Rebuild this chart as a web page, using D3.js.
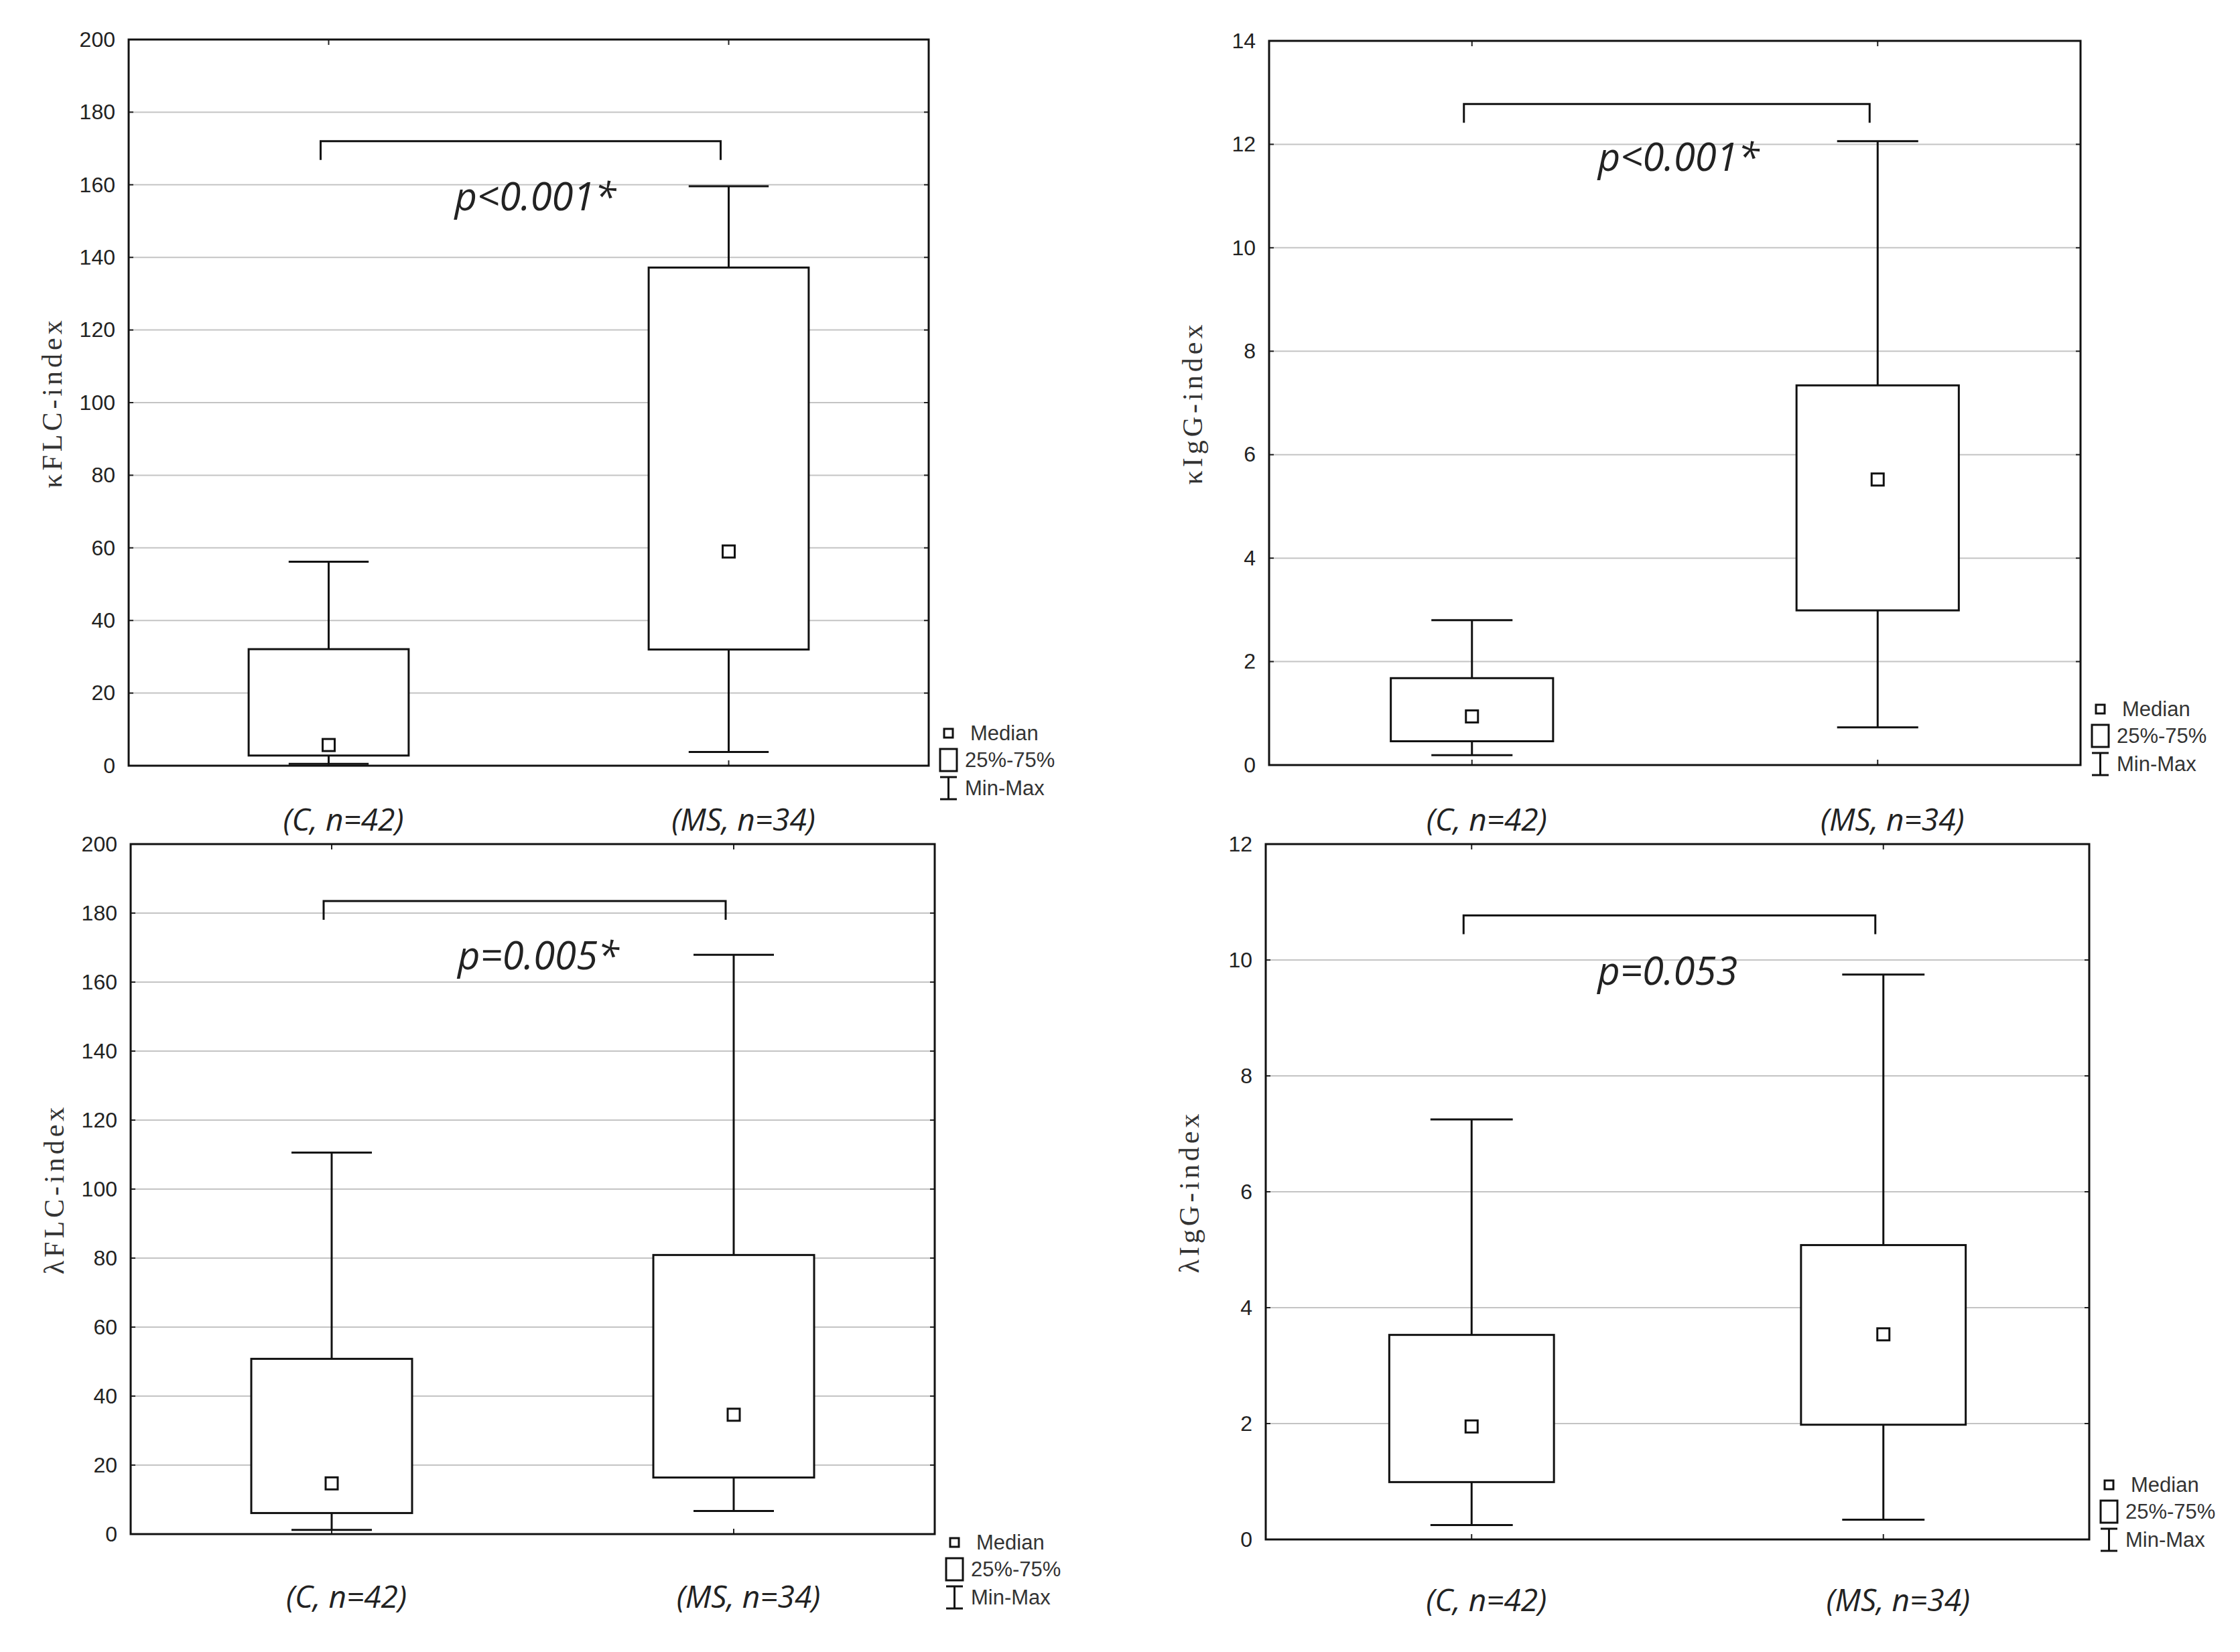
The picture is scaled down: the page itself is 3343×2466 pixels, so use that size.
<!DOCTYPE html>
<html>
<head>
<meta charset="utf-8">
<script src="https://cdn.jsdelivr.net/npm/d3@7"></script>
<style>
  body { margin: 0; background: #fff; }
  svg { display: block; }
</style>
</head>
<body>
<div id="chart"></div>
<script>
// groups on the x axis
var groups = ["(C, n=42)", "(MS, n=34)"];

// box values per group: min, q1, median, q3, max
var kappaFLC_C  = [0.5, 2.8, 5.7, 32.1, 56.2];
var kappaFLC_MS = [3.8, 32.0, 59.0, 137.2, 159.6];
var kappaIgG_C  = [0.19, 0.46, 0.94, 1.68, 2.8];
var kappaIgG_MS = [0.73, 2.99, 5.52, 7.34, 12.06];
var lambdaFLC_C  = [1.2, 6.1, 14.7, 50.8, 110.6];
var lambdaFLC_MS = [6.7, 16.4, 34.6, 80.9, 167.9];
var lambdaIgG_C  = [0.25, 0.99, 1.95, 3.53, 7.25];
var lambdaIgG_MS = [0.34, 1.98, 3.54, 5.08, 9.75];

// y ticks
var ticks200 = [0, 20, 40, 60, 80, 100, 120, 140, 160, 180, 200];
var ticks14 = [0, 2, 4, 6, 8, 10, 12, 14];
var ticks12 = [0, 2, 4, 6, 8, 10, 12];

var yTitles = ["\u03baFLC-index", "\u03baIgG-index", "\u03bbFLC-index", "\u03bbIgG-index"];
var pLabels = ["p<0.001*", "p<0.001*", "p=0.005*", "p=0.053"];
var pLabelY = [153, 11.49, 163.7, 9.57];   // baseline value of the p label
var bracketY = [172, 12.78, 183.5, 10.77]; // value of the bracket bar

var legendNames = ["Median", "25%-75%", "Min-Max"];

// panel boxes in pixels (layout only)
var panels = [
  { left: 192,  top: 59,   right: 1386, bottom: 1143, data: [kappaFLC_C, kappaFLC_MS],   ticks: ticks200, legDy: -55, labDy: 97 },
  { left: 1894, top: 61,   right: 3105, bottom: 1142, data: [kappaIgG_C, kappaIgG_MS],   ticks: ticks14,  legDy: -90, labDy: 98 },
  { left: 195,  top: 1260, right: 1395, bottom: 2290, data: [lambdaFLC_C, lambdaFLC_MS], ticks: ticks200, legDy: 6,   labDy: 110 },
  { left: 1889, top: 1260, right: 3118, bottom: 2298, data: [lambdaIgG_C, lambdaIgG_MS], ticks: ticks12,  legDy: -88, labDy: 107 }
];

var svg = d3.select("#chart")
    .append("svg")
    .attr("width", 3343)
    .attr("height", 2466);

svg.append("rect")
    .attr("width", 3343)
    .attr("height", 2466)
    .attr("fill", "#fff");

panels.forEach(function(p, i) {
  var g = svg.append("g");
  var w = p.right - p.left;

  var x = d3.scalePoint()
      .domain(groups)
      .range([p.left, p.right])
      .padding(0.5);

  var y = d3.scaleLinear()
      .domain([0, d3.max(p.ticks)])
      .range([p.bottom, p.top]);

  // gridlines
  g.selectAll(".grid")
      .data(p.ticks.slice(1, -1))
      .enter()
      .append("line")
      .attr("x1", p.left)
      .attr("x2", p.right)
      .attr("y1", function(d) { return y(d); })
      .attr("y2", function(d) { return y(d); })
      .attr("stroke", "#c4c4c4")
      .attr("stroke-width", 2);

  // y axis labels (left) + small inner ticks on both sides
  var yAxis = d3.axisLeft(y)
      .tickValues(p.ticks)
      .tickSize(0)
      .tickPadding(20);
  var ya = g.append("g")
      .attr("transform", "translate(" + p.left + ",0)")
      .call(yAxis);
  ya.select(".domain").remove();
  ya.selectAll("text")
      .attr("font-family", "'Liberation Sans', Arial, sans-serif")
      .attr("font-size", 32)
      .attr("fill", "#222");

  p.ticks.forEach(function(t) {
    g.append("line")
        .attr("x1", p.left).attr("x2", p.left + 7)
        .attr("y1", y(t)).attr("y2", y(t))
        .attr("stroke", "#222").attr("stroke-width", 2);
    g.append("line")
        .attr("x1", p.right - 7).attr("x2", p.right)
        .attr("y1", y(t)).attr("y2", y(t))
        .attr("stroke", "#222").attr("stroke-width", 2);
  });
  groups.forEach(function(c) {
    g.append("line")
        .attr("x1", x(c)).attr("x2", x(c))
        .attr("y1", p.top).attr("y2", p.top + 8)
        .attr("stroke", "#222").attr("stroke-width", 2);
    g.append("line")
        .attr("x1", x(c)).attr("x2", x(c))
        .attr("y1", p.bottom).attr("y2", p.bottom - 8)
        .attr("stroke", "#222").attr("stroke-width", 2);
  });

  // x labels
  g.selectAll(".xlab")
      .data(groups)
      .enter()
      .append("text")
      .attr("x", function(d) { return x(d) + 22; })
      .attr("y", p.bottom + p.labDy)
      .attr("text-anchor", "middle")
      .attr("font-family", "'Open Sans', sans-serif")
      .attr("font-style", "italic")
      .attr("font-size", 46)
      .attr("fill", "#222")
      .text(function(d) { return d; });

  // y title
  var tx = p.left - 115, ty = (p.top + p.bottom) / 2;
  g.append("text")
      .attr("transform", "translate(" + tx + "," + ty + ") rotate(-90)")
      .attr("text-anchor", "middle")
      .attr("dy", "0.35em")
      .attr("font-family", "'Liberation Serif', 'Times New Roman', serif")
      .attr("font-size", 42)
      .attr("letter-spacing", 5)
      .attr("fill", "#333")
      .text(yTitles[i]);

  // boxes
  var boxW = w * 0.2, capW = w * 0.1;
  var box = g.selectAll(".box")
      .data(p.data)
      .enter()
      .append("g")
      .attr("transform", function(d, j) { return "translate(" + x(groups[j]) + ",0)"; });

  box.append("line")
      .attr("x1", 0).attr("x2", 0)
      .attr("y1", function(d) { return y(d[0]); })
      .attr("y2", function(d) { return y(d[1]); })
      .attr("stroke", "#111").attr("stroke-width", 3);
  box.append("line")
      .attr("x1", 0).attr("x2", 0)
      .attr("y1", function(d) { return y(d[3]); })
      .attr("y2", function(d) { return y(d[4]); })
      .attr("stroke", "#111").attr("stroke-width", 3);
  box.selectAll(".cap")
      .data(function(d) { return [d[0], d[4]]; })
      .enter()
      .append("line")
      .attr("x1", -capW / 2).attr("x2", capW / 2)
      .attr("y1", function(v) { return y(v); })
      .attr("y2", function(v) { return y(v); })
      .attr("stroke", "#111").attr("stroke-width", 3);
  box.append("rect")
      .attr("x", -boxW / 2)
      .attr("width", boxW)
      .attr("y", function(d) { return y(d[3]); })
      .attr("height", function(d) { return y(d[1]) - y(d[3]); })
      .attr("fill", "#fff")
      .attr("stroke", "#111").attr("stroke-width", 3);
  box.append("rect")
      .attr("x", -9).attr("width", 18).attr("height", 18)
      .attr("y", function(d) { return y(d[2]) - 9; })
      .attr("fill", "#fff")
      .attr("stroke", "#111").attr("stroke-width", 3);

  // frame
  g.append("rect")
      .attr("x", p.left).attr("y", p.top)
      .attr("width", w).attr("height", p.bottom - p.top)
      .attr("fill", "none")
      .attr("stroke", "#111").attr("stroke-width", 3);

  // significance bracket
  var bx1 = x(groups[0]) - 12, bx2 = x(groups[1]) - 12, by = y(bracketY[i]);
  g.append("path")
      .attr("d", "M" + bx1 + "," + (by + 28) + "V" + by + "H" + bx2 + "V" + (by + 28))
      .attr("fill", "none")
      .attr("stroke", "#111").attr("stroke-width", 3);
  g.append("text")
      .attr("x", bx1 + 200)
      .attr("y", y(pLabelY[i]))
      .attr("font-family", "'Open Sans', sans-serif")
      .attr("font-style", "italic")
      .attr("font-size", 58)
      .attr("fill", "#222")
      .text(pLabels[i]);

  // legend
  var lx = p.right + 17, ly = p.bottom + p.legDy;
  var leg = g.append("g");
  leg.append("rect")
      .attr("x", lx + 6).attr("y", ly).attr("width", 13).attr("height", 13)
      .attr("fill", "#fff").attr("stroke", "#111").attr("stroke-width", 3);
  leg.append("rect")
      .attr("x", lx).attr("y", ly + 30).attr("width", 25).attr("height", 33)
      .attr("fill", "#fff").attr("stroke", "#111").attr("stroke-width", 3);
  leg.append("path")
      .attr("d", "M" + lx + "," + (ly + 72) + "H" + (lx + 25) +
                 "M" + (lx + 12.5) + "," + (ly + 72) + "V" + (ly + 105) +
                 "M" + lx + "," + (ly + 105) + "H" + (lx + 25))
      .attr("fill", "none").attr("stroke", "#111").attr("stroke-width", 3);
  leg.selectAll("text")
      .data(legendNames)
      .enter()
      .append("text")
      .attr("x", function(d, j) { return lx + (j === 0 ? 45 : 37); })
      .attr("y", function(d, j) { return ly + [17, 57, 99][j]; })
      .attr("font-family", "'Liberation Sans', Arial, sans-serif")
      .attr("font-size", 31)
      .attr("fill", "#333")
      .text(function(d) { return d; });
});
</script>
</body>
</html>
